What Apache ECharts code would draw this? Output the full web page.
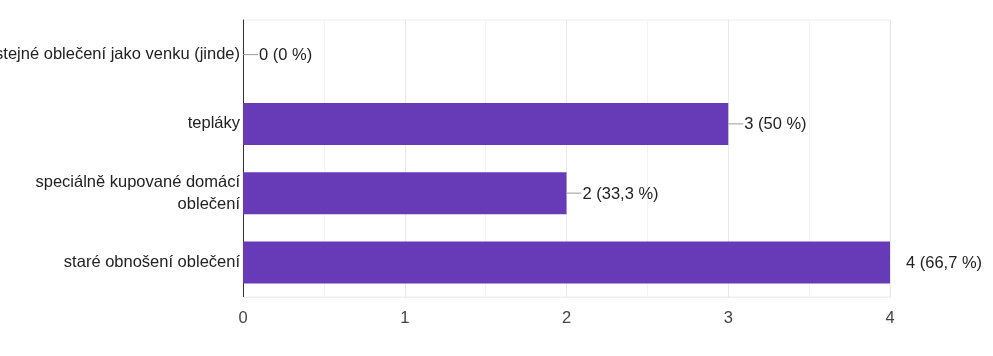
<!DOCTYPE html>
<html><head><meta charset="utf-8">
<script src="https://cdn.jsdelivr.net/npm/echarts@6/dist/echarts.min.js"></script>
<style>html,body{margin:0;padding:0;background:#fff}#c{width:993px;height:356px}</style>
</head><body><div id="c"></div>
<script>
var categories = ['stejné oblečení jako venku (jinde)', 'tepláky', 'speciálně kupované domácí\noblečení', 'staré obnošení oblečení'];
var values = [0, 3, 2, 4];
var percents = ['0 %', '50 %', '33,3 %', '66,7 %'];
var xTicks = [0, 1, 2, 3, 4];

var chart = echarts.init(document.getElementById('c'));
var font = '"Liberation Sans", Arial, sans-serif';
chart.setOption({
  animation: false,
  grid: { left: 243, right: 103, top: 20, bottom: 59, show: true, borderColor: '#eeeeee', borderWidth: 1, containLabel: false, outerBoundsMode: 'none' },
  xAxis: {
    type: 'value', min: xTicks[0], max: xTicks[xTicks.length - 1], interval: 1,
    axisLine: { show: true, lineStyle: { color: '#eeeeee' } },
    axisTick: { show: false },
    axisLabel: { color: '#444', fontSize: 16.5, fontFamily: font, margin: 13 },
    splitLine: { show: true, lineStyle: { color: '#e8e8e8' } },
    minorTick: { show: false, splitNumber: 2 },
    minorSplitLine: { show: true, lineStyle: { color: '#f3f3f3' } }
  },
  yAxis: {
    type: 'category', data: categories, inverse: true,
    axisLine: { show: true, lineStyle: { color: '#333', width: 1 } },
    axisTick: { show: false },
    axisLabel: { color: '#222', fontSize: 16.5, fontFamily: font, margin: 3, align: 'right', lineHeight: 22, padding: [2, 0, 0, 0] }
  },
  series: [{
    type: 'bar', barWidth: 42,
    itemStyle: { color: '#673ab7' },
    data: values.map(function (v, i) {
      var last = i === values.length - 1;
      return {
        value: v,
        label: last ? { rich: { ln: { width: 15, height: 1, backgroundColor: '#ffffff' } } } : undefined
      };
    }),
    label: {
      show: true, position: 'right', distance: 0,
      formatter: function (p) { return '{ln|}{t|' + values[p.dataIndex] + ' (' + percents[p.dataIndex] + ')}'; },
      rich: {
        ln: { width: 15, height: 1, backgroundColor: '#999999' },
        t: { color: '#222', fontSize: 16.5, fontFamily: font, padding: [2, 0, 0, 1] }
      }
    }
  }]
});
</script></body></html>
